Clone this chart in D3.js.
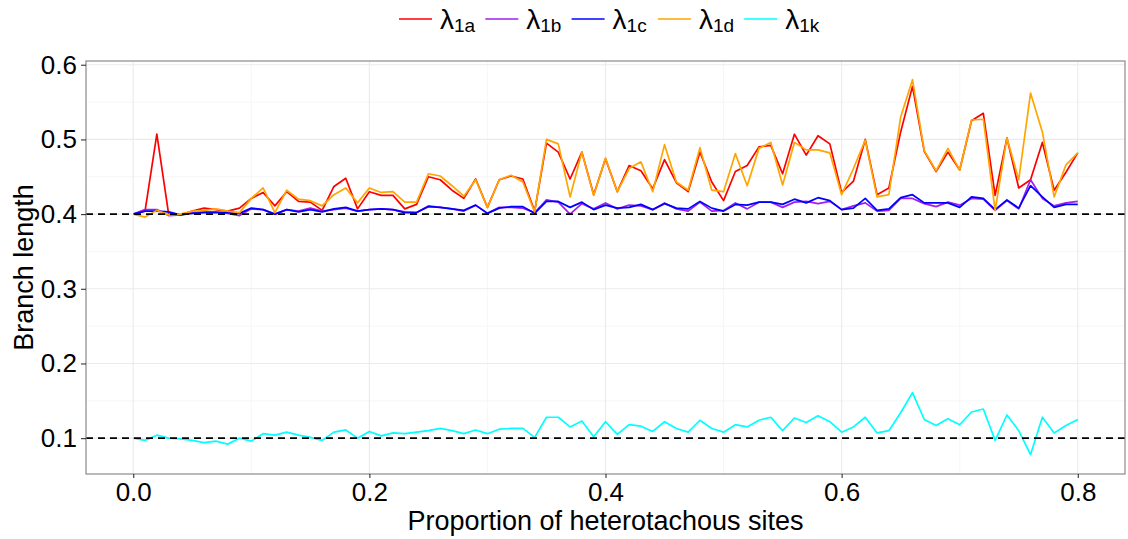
<!DOCTYPE html>
<html>
<head>
<meta charset="utf-8">
<title>Branch length</title>
<script src="https://cdn.jsdelivr.net/npm/d3@7"></script>
<style>
  body { margin: 0; background: #fff; }
  svg { font-family: "Liberation Sans", Arial, sans-serif; }
</style>
</head>
<body>
<svg id="chart" width="1128" height="539"></svg>
<script>
// proportion of heterotachous sites
var props = [0.00,0.01,0.02,0.03,0.04,0.05,0.06,0.07,0.08,0.09,
  0.10,0.11,0.12,0.13,0.14,0.15,0.16,0.17,0.18,0.19,
  0.20,0.21,0.22,0.23,0.24,0.25,0.26,0.27,0.28,0.29,
  0.30,0.31,0.32,0.33,0.34,0.35,0.36,0.37,0.38,0.39,
  0.40,0.41,0.42,0.43,0.44,0.45,0.46,0.47,0.48,0.49,
  0.50,0.51,0.52,0.53,0.54,0.55,0.56,0.57,0.58,0.59,
  0.60,0.61,0.62,0.63,0.64,0.65,0.66,0.67,0.68,0.69,
  0.70,0.71,0.72,0.73,0.74,0.75,0.76,0.77,0.78,0.79,0.80];

var lambda1a = [0.400,0.404,0.507,0.400,0.399,0.404,0.408,0.406,0.404,0.408,0.421,0.429,0.411,0.430,0.417,0.416,
  0.405,0.437,0.448,0.407,0.430,0.425,0.425,0.407,0.413,0.450,0.446,0.432,0.421,0.447,0.409,0.446,
  0.451,0.447,0.404,0.495,0.483,0.447,0.483,0.426,0.474,0.430,0.465,0.458,0.434,0.473,0.442,0.430,
  0.483,0.443,0.418,0.457,0.465,0.490,0.492,0.454,0.507,0.479,0.505,0.494,0.429,0.444,0.500,0.426,
  0.435,0.510,0.571,0.484,0.457,0.483,0.459,0.525,0.535,0.425,0.502,0.435,0.446,0.496,0.432,0.456,0.482];

var lambda1b = [0.400,0.406,0.406,0.398,0.399,0.402,0.403,0.403,0.401,0.398,0.407,0.406,0.400,0.406,0.404,0.408,
  0.404,0.406,0.408,0.404,0.406,0.407,0.406,0.403,0.402,0.411,0.409,0.407,0.404,0.412,0.401,0.409,
  0.409,0.408,0.402,0.419,0.416,0.400,0.414,0.407,0.415,0.407,0.412,0.411,0.406,0.415,0.407,0.404,
  0.416,0.404,0.405,0.415,0.407,0.416,0.416,0.409,0.416,0.417,0.414,0.417,0.406,0.411,0.415,0.404,
  0.405,0.421,0.421,0.414,0.410,0.416,0.412,0.421,0.420,0.405,0.418,0.407,0.446,0.421,0.411,0.415,0.417];

var lambda1c = [0.400,0.404,0.404,0.403,0.399,0.401,0.402,0.402,0.402,0.401,0.408,0.406,0.400,0.406,0.403,0.406,
  0.403,0.407,0.409,0.404,0.406,0.407,0.406,0.402,0.402,0.410,0.409,0.407,0.405,0.412,0.401,0.408,
  0.410,0.410,0.401,0.417,0.417,0.409,0.416,0.406,0.412,0.408,0.409,0.413,0.406,0.414,0.408,0.407,
  0.417,0.408,0.404,0.413,0.412,0.416,0.416,0.413,0.420,0.415,0.422,0.418,0.406,0.408,0.421,0.405,
  0.407,0.422,0.426,0.415,0.415,0.415,0.409,0.423,0.421,0.406,0.419,0.408,0.438,0.423,0.409,0.413,0.413];

var lambda1d = [0.400,0.396,0.405,0.399,0.400,0.404,0.405,0.407,0.404,0.402,0.421,0.435,0.402,0.432,0.420,0.418,
  0.411,0.426,0.435,0.415,0.435,0.429,0.430,0.416,0.416,0.454,0.451,0.438,0.424,0.446,0.409,0.446,
  0.452,0.443,0.403,0.500,0.494,0.423,0.483,0.425,0.475,0.430,0.461,0.470,0.430,0.493,0.443,0.432,
  0.489,0.432,0.430,0.481,0.438,0.488,0.496,0.439,0.496,0.486,0.486,0.482,0.426,0.461,0.499,0.423,
  0.426,0.530,0.580,0.485,0.458,0.488,0.459,0.526,0.527,0.405,0.502,0.446,0.562,0.510,0.423,0.466,0.482];

var lambda1k = [0.100,0.097,0.104,0.100,0.099,0.097,0.094,0.096,0.092,0.100,0.096,0.106,0.104,0.108,0.104,0.101,
  0.097,0.108,0.111,0.100,0.109,0.103,0.107,0.106,0.108,0.110,0.113,0.110,0.106,0.111,0.106,0.112,
  0.113,0.113,0.101,0.128,0.128,0.115,0.123,0.102,0.122,0.105,0.118,0.116,0.109,0.122,0.113,0.108,
  0.124,0.113,0.108,0.118,0.115,0.124,0.128,0.110,0.127,0.121,0.130,0.122,0.108,0.115,0.128,0.107,
  0.110,0.134,0.161,0.125,0.117,0.126,0.118,0.135,0.139,0.097,0.131,0.110,0.078,0.128,0.107,0.117,0.125];

var seriesNames = ["1a", "1b", "1c", "1d", "1k"];
var seriesColors = ["#ff0000", "#a020f0", "#0000ff", "#ffa500", "#00ffff"];
var seriesValues = [lambda1a, lambda1b, lambda1c, lambda1d, lambda1k];

var xTicks = [0, 0.2, 0.4, 0.6, 0.8];
var xMinor = [0.1, 0.3, 0.5, 0.7];
var yTicks = [0.1, 0.2, 0.3, 0.4, 0.5, 0.6];
var yMinor = [0.15, 0.25, 0.35, 0.45, 0.55];
var refLines = [0.4, 0.1];

var svg = d3.select("#chart");
var pLeft = 86, pRight = 1125, pTop = 61, pBottom = 474;

var x = d3.scaleLinear().domain([-0.04, 0.84]).range([pLeft, pRight]);
var y = d3.scaleLinear().domain([0.052, 0.605]).range([pBottom, pTop]);

// grid
var grid = svg.append("g");
grid.selectAll(".ymin").data(yMinor).enter().append("line")
  .attr("x1", pLeft).attr("x2", pRight)
  .attr("y1", function(d) { return y(d); }).attr("y2", function(d) { return y(d); })
  .attr("stroke", "#f4f4f4").attr("stroke-width", 0.8);
grid.selectAll(".xmin").data(xMinor).enter().append("line")
  .attr("y1", pTop).attr("y2", pBottom)
  .attr("x1", function(d) { return x(d); }).attr("x2", function(d) { return x(d); })
  .attr("stroke", "#f4f4f4").attr("stroke-width", 0.8);
grid.selectAll(".ymaj").data(yTicks).enter().append("line")
  .attr("x1", pLeft).attr("x2", pRight)
  .attr("y1", function(d) { return y(d); }).attr("y2", function(d) { return y(d); })
  .attr("stroke", "#ebebeb").attr("stroke-width", 1.1);
grid.selectAll(".xmaj").data(xTicks).enter().append("line")
  .attr("y1", pTop).attr("y2", pBottom)
  .attr("x1", function(d) { return x(d); }).attr("x2", function(d) { return x(d); })
  .attr("stroke", "#ebebeb").attr("stroke-width", 1.1);

svg.append("clipPath").attr("id", "panel")
  .append("rect").attr("x", pLeft).attr("y", pTop)
  .attr("width", pRight - pLeft).attr("height", pBottom - pTop);

// series
var line = d3.line()
  .x(function(d, i) { return x(props[i]); })
  .y(function(d) { return y(d); });

var plot = svg.append("g").attr("clip-path", "url(#panel)");
plot.selectAll(".series").data(seriesValues).enter().append("path")
  .attr("d", line)
  .attr("fill", "none")
  .attr("stroke", function(d, i) { return seriesColors[i]; })
  .attr("stroke-width", 1.7)
  .attr("stroke-linejoin", "round");

plot.selectAll(".ref").data(refLines).enter().append("line")
  .attr("x1", pLeft).attr("x2", pRight)
  .attr("y1", function(d) { return y(d); }).attr("y2", function(d) { return y(d); })
  .attr("stroke", "#000").attr("stroke-width", 1.6)
  .attr("stroke-dasharray", "7,5");

// border
svg.append("rect")
  .attr("x", pLeft).attr("y", pTop)
  .attr("width", pRight - pLeft).attr("height", pBottom - pTop)
  .attr("fill", "none").attr("stroke", "#8a8a8a").attr("stroke-width", 1.2);

// axes
var xAxis = svg.append("g").attr("transform", "translate(0," + pBottom + ")")
  .call(d3.axisBottom(x).tickValues(xTicks).tickFormat(d3.format(".1f")).tickSize(4).tickPadding(5));
var yAxis = svg.append("g").attr("transform", "translate(" + pLeft + ",0)")
  .call(d3.axisLeft(y).tickValues(yTicks).tickFormat(d3.format(".1f")).tickSize(5).tickPadding(4));
[xAxis, yAxis].forEach(function(a) {
  a.select(".domain").remove();
  a.selectAll(".tick line").attr("stroke", "#333").attr("stroke-width", 1.1);
  a.selectAll("text").attr("font-size", 26).attr("fill", "#000")
    .attr("font-family", "Liberation Sans, Arial, sans-serif");
});

svg.append("text")
  .attr("x", (pLeft + pRight) / 2).attr("y", 530)
  .attr("text-anchor", "middle").attr("font-size", 27).attr("fill", "#000")
  .text("Proportion of heterotachous sites");

svg.append("text")
  .attr("transform", "translate(33," + (pTop + pBottom) / 2 + ") rotate(-90)")
  .attr("text-anchor", "middle").attr("font-size", 27).attr("fill", "#000")
  .text("Branch length");

// legend
var legend = svg.append("g");
var item = legend.selectAll(".item").data(seriesNames).enter().append("g")
  .attr("transform", function(d, i) { return "translate(" + (399 + i * 86.3) + ",19)"; });
item.append("line")
  .attr("x1", 0).attr("x2", 33).attr("y1", 0).attr("y2", 0)
  .attr("stroke", function(d, i) { return seriesColors[i]; })
  .attr("stroke-width", 1.6);
var lab = item.append("text")
  .attr("x", 41).attr("y", 10)
  .attr("font-size", 28).attr("fill", "#000");
lab.append("tspan").text("\u03bb");
lab.append("tspan").attr("font-size", 19).attr("dy", 3).text(function(d) { return d; });
</script>
</body>
</html>
